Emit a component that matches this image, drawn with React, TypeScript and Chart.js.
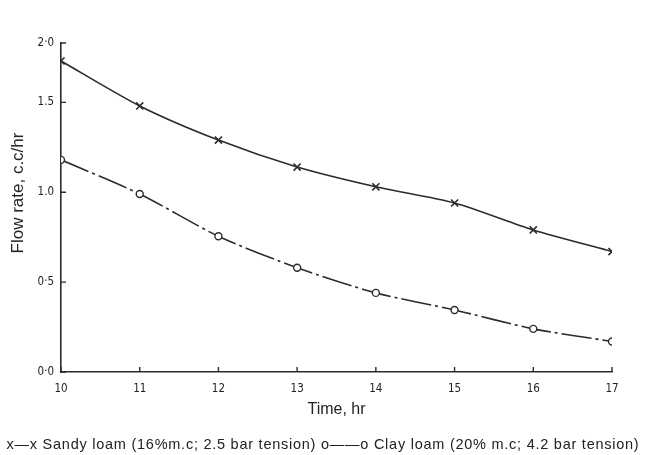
import React, { useEffect, useRef } from "react";
import { Chart, registerables } from "chart.js";

Chart.register(...registerables);

const timeHours = [10, 11, 12, 13, 14, 15, 16, 17];
const sandyLoam = [1.73, 1.48, 1.29, 1.14, 1.03, 0.94, 0.79, 0.67];
const clayLoam = [1.18, 0.99, 0.755, 0.58, 0.44, 0.345, 0.24, 0.17];
const yTickValues = [0, 0.5, 1.0, 1.5, 1.83];
const yTickLabels = ["0·0", "0·5", "1.0", "1.5", "2·0"];
const sandyLabel = "x—x Sandy loam (16%m.c; 2.5 bar tension)";
const clayLabel = "o——o Clay loam (20% m.c; 4.2 bar tension)";
const yTitle = "Flow rate, c.c/hr";
const xTitle = "Time, hr";

const ink = "#2b2b2b";

const innerTicks = {
  id: "innerTicks",
  afterDatasetsDraw(chart: any) {
    const ctx = chart.ctx;
    const xs = chart.scales.x;
    const ys = chart.scales.y;
    ctx.save();
    ctx.strokeStyle = ink;
    ctx.lineWidth = 1.4;
    ctx.beginPath();
    xs.ticks.forEach((t: any) => {
      const px = xs.getPixelForValue(t.value);
      ctx.moveTo(px, xs.top);
      ctx.lineTo(px, xs.top - 5);
    });
    ys.ticks.forEach((t: any) => {
      const py = ys.getPixelForValue(t.value);
      ctx.moveTo(ys.right, py);
      ctx.lineTo(ys.right + 5, py);
    });
    ctx.stroke();
    ctx.restore();
  },
};

export default function App() {
  const ref = useRef<HTMLCanvasElement>(null);
  useEffect(() => {
    const chart = new Chart(ref.current!, {
      type: "line",
      data: {
        datasets: [
          {
            label: sandyLabel,
            data: timeHours.map((t, i) => ({ x: t, y: sandyLoam[i] })),
            borderColor: ink,
            borderWidth: 1.6,
            pointStyle: "crossRot",
            pointRadius: 5,
            pointBorderWidth: 1.6,
            pointBorderColor: ink,
            tension: 0.25,
          },
          {
            label: clayLabel,
            data: timeHours.map((t, i) => ({ x: t, y: clayLoam[i] })),
            borderColor: ink,
            borderWidth: 1.6,
            borderDash: [30, 4, 3, 4],
            pointStyle: "circle",
            pointRadius: 3.5,
            pointBorderWidth: 1.4,
            pointBorderColor: ink,
            pointBackgroundColor: "#fff",
            tension: 0.25,
          },
        ],
      },
      options: {
        animation: false,
        responsive: false,
        layout: { padding: { top: 43, right: 34, left: 0, bottom: 36 } },
        plugins: {
          tooltip: { enabled: false },
          legend: { display: false },
        },
        scales: {
          x: {
            type: "linear",
            min: 10,
            max: 17,
            border: { display: true, color: ink, width: 1.6 },
            grid: { display: false, drawTicks: false },
            ticks: {
              stepSize: 1,
              color: "#222",
              padding: 10,
              font: { family: "DejaVu Sans Condensed", size: 11.5 },
            },
            title: {
              display: true,
              text: xTitle,
              color: "#222",
              font: { family: "Liberation Sans", size: 16 },
              padding: { top: 1, bottom: 0 },
            },
            afterFit: (s: any) => {
              s.height = 47;
            },
          },
          y: {
            type: "linear",
            min: 0,
            max: 1.83,
            border: { display: true, color: ink, width: 1.6 },
            grid: { display: false, drawTicks: false },
            afterBuildTicks: (s: any) => {
              s.ticks = yTickValues.map((v) => ({ value: v }));
            },
            ticks: {
              color: "#222",
              padding: 7,
              font: { family: "DejaVu Sans Condensed", size: 11.5 },
              callback: (v: any) => {
                const i = yTickValues.indexOf(Number(v));
                return i >= 0 ? yTickLabels[i] : "";
              },
            },
            afterFit: (s: any) => {
              s.width = 61;
            },
          },
        },
      },
      plugins: [innerTicks],
    });
    return () => chart.destroy();
  }, []);
  return (
    <div style={{ position: "fixed", left: 0, top: 0, width: 646, height: 455, background: "#fff" }}>
      <canvas ref={ref} width={646} height={455} style={{ width: 646, height: 455, display: "block" }} />
      <div
        style={{
          position: "absolute",
          left: -82,
          top: 183,
          width: 200,
          height: 20,
          lineHeight: "20px",
          textAlign: "center",
          whiteSpace: "nowrap",
          fontFamily: "Liberation Sans",
          fontSize: 17,
          color: "#222",
          transform: "rotate(-90deg)",
        }}
      >
        {yTitle}
      </div>
      <div
        style={{
          position: "absolute",
          left: 0,
          top: 436,
          width: 646,
          textAlign: "center",
          whiteSpace: "nowrap",
          fontFamily: "Liberation Sans",
          fontSize: 14.5,
          lineHeight: "16px",
          letterSpacing: "0.75px",
          color: "#222",
        }}
      >
        <span>{sandyLabel}</span> <span>{clayLabel}</span>
      </div>
    </div>
  );
}
